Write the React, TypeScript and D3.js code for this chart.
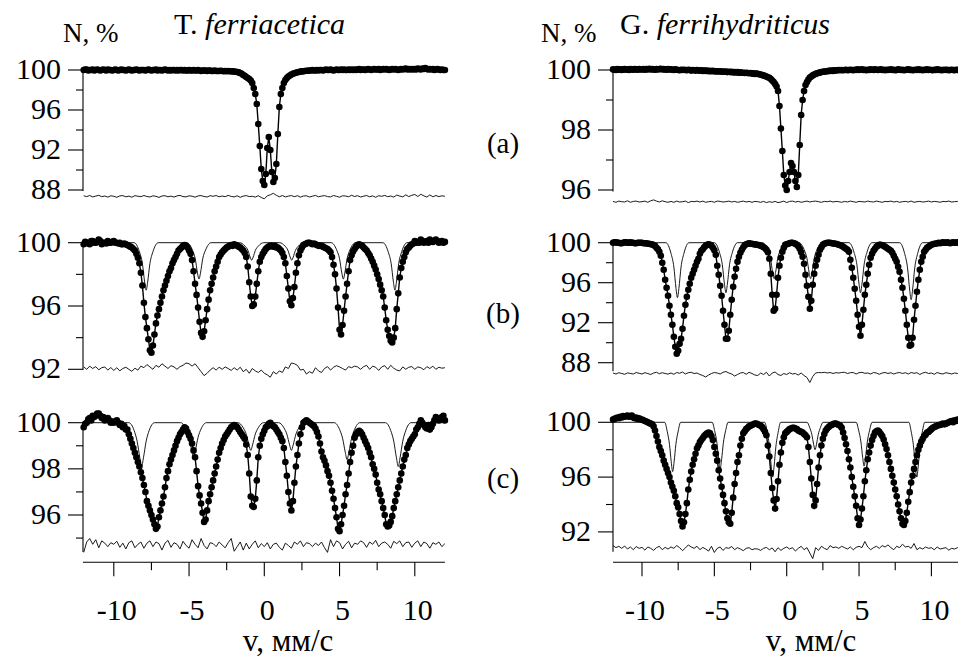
import React from 'react';
import * as d3 from 'd3';

// velocity channels, mm/s (spectra every 0.1 mm/s, residuals every 0.2 mm/s)
const velocity: number[] = d3.range(241).map((i) => +(-12 + 0.1 * i).toFixed(1));
const resVelocity: number[] = d3.range(121).map((i) => +(-12 + 0.2 * i).toFixed(1));

// ---------- transmission spectra N, % ----------
const tfA = [
  100.0, 100.05, 100.05, 99.95, 100.0, 100.0, 100.05, 99.95, 100.0, 100.05,
  100.0, 99.95, 100.0, 100.05, 100.0, 99.95, 100.05, 100.0, 100.0, 99.95,
  100.0, 100.05, 100.0, 99.95, 100.0, 100.05, 100.0, 100.0, 99.95, 100.0,
  100.05, 100.0, 99.95, 100.0, 100.0, 100.05, 100.0, 99.95, 100.0, 100.0,
  100.0, 99.95, 100.0, 100.05, 100.0, 99.95, 100.0, 100.0, 100.05, 99.95,
  100.0, 100.0, 99.95, 100.0, 100.05, 100.0, 99.95, 100.0, 99.95, 100.0,
  100.0, 99.95, 100.0, 99.95, 100.0, 100.0, 99.95, 100.0, 99.95, 99.95,
  100.0, 99.95, 99.95, 100.0, 99.95, 99.95, 100.0, 99.95, 99.9, 99.95,
  99.95, 99.95, 99.9, 99.95, 99.95, 99.9, 99.9, 99.95, 99.9, 99.9,
  99.9, 99.92, 99.9, 99.88, 99.9, 99.88, 99.9, 99.87, 99.88, 99.86,
  99.85, 99.83, 99.8, 99.76, 99.7, 99.62, 99.5, 99.42, 99.3, 99.2,
  99.1, 98.95, 98.7, 98.2, 97.6, 96.6, 94.6, 92.4, 90.1, 88.9,
  88.5, 89.6, 92.2, 93.3, 92.0, 89.8, 88.8, 89.2, 90.6, 93.6,
  96.3, 97.6, 98.2, 98.7, 99.0, 99.2, 99.35, 99.45, 99.55, 99.62,
  99.68, 99.72, 99.77, 99.8, 99.84, 99.86, 99.88, 99.9, 99.92, 99.93,
  99.95, 99.95, 100.0, 99.95, 99.95, 100.0, 99.95, 100.0, 100.0, 99.95,
  100.0, 100.05, 100.0, 100.0, 100.05, 100.0, 99.95, 100.0, 100.05, 100.0,
  100.0, 100.05, 100.0, 100.05, 100.0, 100.0, 100.05, 100.0, 100.05, 100.0,
  100.05, 100.0, 100.05, 100.1, 100.0, 100.05, 100.05, 100.0, 100.05, 100.1,
  100.05, 100.0, 100.05, 100.1, 100.05, 100.05, 100.1, 100.0, 100.05, 100.1,
  100.05, 100.1, 100.05, 100.0, 100.05, 100.1, 100.05, 100.1, 100.05, 100.0,
  100.05, 100.1, 100.05, 100.1, 100.15, 100.05, 100.1, 100.05, 100.1, 100.05,
  100.1, 100.05, 100.15, 100.1, 100.05, 100.15, 100.1, 100.2, 100.1, 100.05,
  100.1, 100.05, 100.1, 100.0, 100.05, 100.1, 100.05, 100.0, 100.05, 100.0,
  100.0,
];
const tfB = [
  99.9, 100.05, 100.0, 99.95, 99.9, 100.1, 100.1, 100.0, 100.0, 100.05,
  100.2, 100.1, 99.9, 100.0, 100.0, 99.95, 100.1, 100.0, 100.0, 100.05,
  100.1, 100.0, 100.0, 99.95, 100.0, 99.9, 99.9, 99.95, 99.9, 99.85,
  99.8, 99.75, 99.7, 99.6, 99.5, 99.3, 99.05, 98.7, 98.1, 97.3,
  96.2, 95.3, 94.6, 93.9, 93.2, 93.05, 93.5, 94.2, 94.9, 95.4,
  95.8, 96.2, 96.6, 97.0, 97.3, 97.6, 97.9, 98.2, 98.4, 98.7,
  98.9, 99.1, 99.3, 99.5, 99.6, 99.7, 99.8, 99.85, 99.8, 99.7,
  99.5, 99.3, 98.9, 98.2, 97.4, 96.7, 95.9, 95.0, 94.3, 94.05,
  94.4, 95.1, 95.8, 96.4, 97.0, 97.4, 97.8, 98.2, 98.5, 98.8,
  99.1, 99.25, 99.4, 99.5, 99.6, 99.7, 99.75, 99.8, 99.85, 99.8,
  99.9, 99.85, 99.8, 99.75, 99.7, 99.6, 99.5, 99.35, 99.1, 98.5,
  97.5, 96.6, 96.0, 96.1, 96.6, 97.4, 98.2, 98.8, 99.1, 99.3,
  99.45, 99.6, 99.7, 99.75, 99.8, 99.8, 99.75, 99.8, 99.7, 99.7,
  99.6, 99.5, 99.35, 99.1, 98.7, 97.9, 97.1, 96.3, 96.05, 96.5,
  97.2, 98.1, 98.7, 99.2, 99.5, 99.7, 99.85, 99.9, 99.95, 100.0,
  100.0, 99.95, 99.9, 99.95, 99.9, 99.85, 99.8, 99.8, 99.8, 99.75,
  99.7, 99.65, 99.6, 99.5, 99.4, 99.1, 98.6, 98.0, 97.1, 95.9,
  94.5, 94.2, 94.8, 95.7, 96.6, 97.4, 98.2, 98.9, 99.2, 99.45,
  99.6, 99.75, 99.85, 99.9, 99.85, 99.8, 99.7, 99.6, 99.5, 99.35,
  99.2, 99.0, 98.8, 98.55, 98.3, 98.0, 97.7, 97.35, 97.0, 96.6,
  95.9, 95.1, 94.5, 94.1, 93.8, 93.7, 94.0, 94.6, 95.8, 96.8,
  97.8, 98.4, 98.8, 99.1, 99.4, 99.6, 99.7, 99.8, 99.9, 99.95,
  100.1, 100.0, 100.05, 100.0, 100.2, 100.1, 100.0, 100.05, 100.1, 100.0,
  100.2, 100.1, 100.05, 100.1, 100.2, 100.1, 100.0, 100.05, 100.1, 100.0,
  100.05,
];
const tfC = [
  99.8, 99.95, 100.0, 100.15, 100.2, 100.1, 100.3, 100.25, 100.3, 100.4,
  100.4, 100.3, 100.2, 100.25, 100.1, 100.15, 100.2, 100.1, 100.0, 100.05,
  100.0, 100.05, 100.1, 100.0, 99.9, 99.95, 99.8, 99.85, 99.7, 99.7,
  99.5, 99.3, 99.1, 98.9, 98.7, 98.5, 98.3, 98.1, 97.85, 97.6,
  97.3, 97.0, 96.6, 96.4, 96.2, 96.0, 95.8, 95.6, 95.4, 95.5,
  95.9, 96.2, 96.5, 96.8, 97.2, 97.6, 97.9, 98.2, 98.4, 98.6,
  98.8, 99.0, 99.2, 99.35, 99.5, 99.6, 99.7, 99.8, 99.75, 99.6,
  99.45, 99.3, 99.1, 98.8, 98.5, 97.9, 97.25, 96.85, 96.5, 96.1,
  95.7, 95.8, 96.2, 96.6, 96.9, 97.2, 97.5, 97.8, 98.1, 98.4,
  98.7, 98.9, 99.1, 99.25, 99.4, 99.5, 99.6, 99.7, 99.8, 99.85,
  99.9, 99.85, 99.8, 99.7, 99.6, 99.5, 99.4, 99.3, 99.05, 98.6,
  97.8, 96.8, 96.4, 96.35, 96.7, 97.5, 98.5, 99.0, 99.3, 99.5,
  99.65, 99.8, 99.85, 99.95, 100.0, 99.9, 99.85, 99.8, 99.7, 99.6,
  99.5, 99.35, 99.2, 98.9, 98.3, 97.7, 97.0, 96.5, 96.2, 96.6,
  97.4, 98.1, 98.6, 99.1, 99.5, 99.8, 100.0, 100.05, 100.1, 100.05,
  100.0, 99.95, 99.9, 99.85, 99.75, 99.6, 99.4, 99.1, 98.75, 98.5,
  98.35, 98.15, 97.9, 97.7, 97.4, 97.05, 96.7, 96.3, 95.9, 95.4,
  95.3, 95.6, 96.0, 96.4, 96.9, 97.3, 97.8, 98.3, 98.7, 99.0,
  99.35, 99.5, 99.6, 99.65, 99.6, 99.5, 99.35, 99.2, 99.05, 98.9,
  98.7, 98.5, 98.2, 98.0, 97.75, 97.4, 97.1, 96.9, 96.6, 96.3,
  96.0, 95.6, 95.5, 95.55, 95.7, 95.95, 96.3, 96.6, 96.9, 97.2,
  97.5, 97.8, 98.1, 98.4, 98.6, 98.9, 99.05, 99.2, 99.3, 99.4,
  99.5, 99.7, 99.8, 99.95, 100.1, 100.0, 99.9, 99.8, 99.75, 99.9,
  99.7, 99.8, 99.95, 100.1, 100.25, 100.15, 100.1, 100.2, 100.25, 100.3,
  100.1,
];
const gfA = [
  100.02, 100.01, 100.0, 100.03, 100.01, 100.02, 100.0, 100.02, 100.03, 100.01,
  100.02, 100.0, 100.03, 100.02, 100.01, 100.03, 100.02, 100.01, 100.03, 100.02,
  100.02, 100.03, 100.01, 100.03, 100.02, 100.04, 100.02, 100.03, 100.02, 100.01,
  100.03, 100.02, 100.03, 100.04, 100.02, 100.03, 100.02, 100.01, 100.03, 100.02,
  100.02, 100.01, 100.0, 100.02, 100.01, 100.0, 99.99, 100.01, 100.0, 100.01,
  100.0, 99.99, 100.01, 100.0, 99.98, 100.0, 99.99, 99.98, 100.0, 99.98,
  99.98, 99.99, 99.97, 99.98, 99.97, 99.98, 99.96, 99.97, 99.96, 99.97,
  99.96, 99.95, 99.96, 99.95, 99.96, 99.94, 99.95, 99.94, 99.95, 99.93,
  99.94, 99.93, 99.94, 99.92, 99.93, 99.92, 99.93, 99.91, 99.92, 99.91,
  99.91, 99.9, 99.91, 99.9, 99.89, 99.9, 99.88, 99.89, 99.87, 99.88,
  99.87, 99.86, 99.85, 99.83, 99.82, 99.8, 99.78, 99.76, 99.74, 99.7,
  99.65, 99.6, 99.53, 99.45, 99.3, 98.8, 98.05, 97.3, 96.5, 96.15,
  96.0, 96.3, 96.6, 96.9, 96.8, 96.6, 96.3, 96.1, 96.5, 97.5,
  98.5, 99.0, 99.3, 99.5, 99.6, 99.68, 99.75, 99.78, 99.82, 99.85,
  99.87, 99.89, 99.9, 99.92, 99.93, 99.94, 99.95, 99.95, 99.96, 99.97,
  99.97, 99.98, 99.97, 99.99, 99.98, 99.99, 100.0, 99.99, 100.0, 99.99,
  100.0, 100.01, 99.99, 100.0, 100.01, 100.0, 99.99, 100.01, 100.0, 100.02,
  100.0, 100.01, 100.02, 100.0, 100.01, 99.99, 100.01, 100.0, 100.02, 100.01,
  100.0, 100.02, 100.01, 100.0, 100.01, 100.02, 100.0, 100.01, 99.99, 100.01,
  100.0, 100.01, 100.02, 100.0, 100.01, 99.99, 100.0, 100.02, 100.01, 100.0,
  100.01, 99.99, 100.0, 100.01, 100.02, 100.0, 100.01, 99.99, 100.0, 100.01,
  100.0, 100.02, 100.0, 100.01, 99.99, 100.01, 100.0, 100.02, 100.0, 100.01,
  100.0, 99.99, 100.01, 100.0, 100.02, 100.0, 100.01, 99.99, 100.0, 100.01,
  100.0, 100.01, 99.99, 100.0, 100.01, 100.0, 99.99, 100.01, 100.0, 100.0,
  100.0,
];
const gfB = [
  100.0, 100.05, 100.05, 100.0, 100.0, 99.95, 99.95, 100.0, 100.05, 100.05,
  100.0, 100.0, 100.05, 100.0, 100.0, 99.95, 99.95, 100.0, 100.0, 100.0,
  100.0, 99.95, 99.95, 99.95, 99.9, 99.9, 99.85, 99.85, 99.75, 99.7,
  99.5, 99.35, 99.1, 98.7, 98.0, 97.3, 96.3, 95.5, 94.7, 93.7,
  92.8, 91.8, 90.6, 89.6, 88.9, 89.2, 89.9, 90.4, 91.4, 92.7,
  93.8, 94.6, 95.3, 95.9, 96.5, 96.9, 97.3, 97.7, 98.1, 98.4,
  98.9, 99.2, 99.35, 99.55, 99.7, 99.8, 99.85, 99.8, 99.7, 99.5,
  99.25, 98.8, 97.7, 96.8, 95.7, 94.7, 93.2, 91.8, 90.4, 90.4,
  91.2, 92.8, 94.3, 95.6, 96.6, 97.4, 98.1, 98.6, 99.0, 99.3,
  99.55, 99.75, 99.85, 99.9, 99.95, 99.9, 99.9, 99.85, 99.85, 99.8,
  99.8, 99.75, 99.7, 99.65, 99.55, 99.45, 99.3, 99.05, 98.4, 96.9,
  94.8, 93.2, 93.4, 94.8, 96.5, 97.7, 98.5, 99.1, 99.5, 99.8,
  99.85, 99.9, 99.95, 100.0, 100.0, 99.95, 99.9, 99.8, 99.65, 99.4,
  99.05, 98.6, 97.9, 96.8, 95.7, 94.6, 93.4, 94.2, 95.8, 96.9,
  97.7, 98.3, 98.8, 99.3, 99.55, 99.8, 99.9, 99.95, 100.0, 100.0,
  100.0, 99.95, 99.95, 99.9, 99.9, 99.85, 99.8, 99.75, 99.7, 99.6,
  99.5, 99.4, 99.3, 99.1, 98.3, 97.5, 96.5, 95.4, 94.2, 92.8,
  91.6, 90.7, 91.8, 93.3, 94.8, 95.8, 96.9, 97.8, 98.5, 98.9,
  99.2, 99.4, 99.6, 99.7, 99.8, 99.8, 99.75, 99.7, 99.6, 99.5,
  99.4, 99.3, 99.2, 99.0, 98.7, 98.4, 98.1, 97.6, 97.1, 96.3,
  95.5, 94.4, 93.2, 91.8, 90.5, 89.7, 89.8, 90.5, 92.3, 93.7,
  95.1, 96.3, 97.3, 98.1, 98.6, 99.1, 99.3, 99.5, 99.6, 99.7,
  99.8, 99.85, 99.9, 99.9, 99.95, 100.0, 99.95, 100.0, 100.05, 100.0,
  100.0, 100.05, 100.0, 99.95, 100.0, 100.05, 100.0, 100.0, 100.05, 100.0,
  100.0,
];
const gfC = [
  100.2, 100.25, 100.3, 100.35, 100.3, 100.4, 100.35, 100.45, 100.4, 100.45,
  100.5, 100.4, 100.45, 100.5, 100.35, 100.3, 100.35, 100.25, 100.3, 100.2,
  100.2, 100.15, 100.1, 100.05, 100.0, 99.95, 99.9, 99.85, 99.7, 99.4,
  99.0, 98.6, 98.2, 97.9, 97.6, 97.2, 96.9, 96.6, 96.3, 96.0,
  95.6, 95.3, 95.0, 94.6, 94.1, 93.8, 93.3, 92.8, 92.4, 92.7,
  93.3, 94.1, 95.1, 95.8, 96.4, 96.9, 97.3, 97.7, 98.1, 98.3,
  98.55, 98.7, 98.85, 99.0, 99.1, 99.2, 99.25, 99.2, 99.0, 98.7,
  98.2, 97.7, 97.2, 96.5, 95.9, 95.3, 94.7, 94.1, 93.5, 93.0,
  92.7, 92.6, 93.4, 94.5, 95.5, 96.3, 97.1, 97.6, 98.3, 98.8,
  99.2, 99.35, 99.5, 99.6, 99.7, 99.75, 99.8, 99.85, 99.9, 99.9,
  99.85, 99.8, 99.75, 99.65, 99.5, 99.3, 99.05, 98.3, 97.5, 96.3,
  95.2, 94.3, 93.7, 94.4, 95.7, 96.9, 97.8, 98.5, 98.9, 99.2,
  99.3, 99.4, 99.5, 99.55, 99.6, 99.6, 99.55, 99.5, 99.4, 99.35,
  99.3, 99.25, 99.15, 99.05, 98.9, 98.2, 97.1, 95.9, 94.7, 93.9,
  94.3, 95.5, 96.7, 97.6, 98.3, 98.8, 99.15, 99.4, 99.55, 99.65,
  99.75, 99.8, 99.85, 99.9, 99.9, 99.85, 99.8, 99.75, 99.6, 99.25,
  98.85, 98.4, 97.9, 97.3, 96.7, 96.0, 95.3, 94.6, 93.9, 93.0,
  92.5, 92.9, 93.7, 94.6, 95.7, 96.5, 97.3, 97.8, 98.3, 98.7,
  99.0, 99.25, 99.35, 99.4, 99.3, 99.15, 99.0, 98.75, 98.4, 98.05,
  97.6, 97.1, 96.6, 96.1, 95.6, 95.1, 94.6, 94.0, 93.5, 93.0,
  92.6, 92.5, 92.8, 93.4, 94.2, 94.9, 95.6, 96.1, 96.6, 97.1,
  97.6, 98.0, 98.3, 98.6, 98.8, 99.0, 99.1, 99.25, 99.3, 99.4,
  99.5, 99.6, 99.65, 99.7, 99.75, 99.8, 99.8, 99.85, 99.9, 99.85,
  99.9, 99.95, 100.0, 100.05, 100.1, 100.0, 100.15, 100.1, 100.2, 100.1,
  100.1,
];

// ---------- fit residuals (difference, %) ----------
const tfAres = [
  0.05, -0.03, 0.08, -0.06, 0.02, 0.1, -0.04, 0.03, -0.08, 0.05,
  0.0, -0.1, 0.04, 0.07, -0.05, 0.02, -0.09, 0.06, 0.01, -0.04,
  0.08, -0.02, -0.07, 0.05, 0.0, -0.11, 0.03, 0.06, -0.05, 0.02,
  -0.08, 0.04, 0.09, -0.03, -0.06, 0.05, 0.01, -0.09, 0.04, 0.07,
  -0.02, -0.07, 0.06, 0.0, 0.08, -0.05, 0.03, -0.04, 0.09, -0.01,
  -0.06, 0.05, -0.1, 0.02, 0.07, -0.03, 0.0, -0.08, 0.06, -0.12,
  -0.25, 0.05, 0.15, 0.3, 0.1, -0.05, 0.08, -0.06, 0.02, 0.07,
  -0.04, 0.06, -0.08, 0.03, 0.05, -0.07, 0.01, 0.09, -0.05, 0.02,
  0.07, -0.03, -0.06, 0.08, 0.0, -0.09, 0.05, 0.03, -0.04, 0.1,
  -0.02, 0.06, -0.07, 0.01, 0.08, -0.05, 0.04, -0.1, 0.06, 0.0,
  0.09, -0.04, 0.03, -0.08, 0.12, 0.02, -0.06, 0.15, -0.03, 0.1,
  0.18, -0.02, 0.2, 0.05, -0.08, 0.14, -0.05, 0.08, -0.03, 0.05,
  0.0,
];
const tfBres = [
  0.1, -0.05, 0.15, 0.0, 0.12, -0.08, 0.05, 0.1, -0.1, 0.06,
  -0.12, 0.05, -0.15, 0.0, 0.08, -0.05, -0.18, 0.02, -0.1, 0.15,
  0.05, 0.25, 0.1, -0.05, 0.2, 0.08, 0.3, 0.15, 0.0, 0.18,
  0.1, -0.05, 0.12, 0.2, 0.35, 0.3, 0.15, 0.3, 0.05, -0.2,
  -0.45, -0.3, -0.1, 0.05, -0.1, 0.08, -0.05, 0.1, 0.0, -0.12,
  0.05, -0.1, 0.08, -0.2, -0.05, -0.3, 0.0, -0.15, -0.25, -0.1,
  -0.3, -0.4, -0.55, -0.2, -0.35, -0.15, -0.25, 0.1, 0.0, 0.35,
  0.3, 0.2, -0.1, -0.05, -0.35, -0.2, -0.3, 0.05, -0.15, -0.25,
  0.0, 0.12, -0.1, 0.08, 0.18, 0.1, 0.0, -0.1, 0.12, 0.05,
  0.15, 0.1, -0.05, 0.12, 0.2, -0.05, 0.15, 0.08, -0.12, 0.1,
  0.18, -0.05, 0.2, 0.02, -0.1, -0.15, 0.1, -0.05, 0.08, 0.12,
  -0.05, 0.1, 0.05, -0.08, 0.12, 0.0, 0.15, -0.05, 0.08, 0.02,
  0.05,
];
const tfCres = [
  -0.3, 0.15, 0.3, 0.05, 0.25, -0.1, 0.2, 0.1, -0.05, 0.12,
  0.05, 0.18, -0.08, 0.1, -0.15, 0.12, 0.2, -0.1, 0.05, 0.15,
  -0.12, 0.1, 0.2, -0.05, 0.15, 0.08, -0.2, 0.1, 0.22, -0.08,
  0.12, 0.05, -0.15, 0.18, 0.0, -0.12, 0.25, 0.05, -0.1, 0.3,
  0.0, -0.15, 0.12, 0.08, -0.05, 0.15, 0.02, -0.1, 0.12, 0.3,
  -0.25, -0.05, 0.15, -0.2, 0.1, -0.15, 0.05, 0.2, -0.1, 0.08,
  -0.05, 0.12, -0.15, 0.05, 0.1, -0.08, -0.2, 0.1, 0.0, -0.12,
  0.15, 0.05, 0.2, -0.05, 0.12, 0.08, -0.05, 0.1, 0.0, 0.15,
  -0.1, -0.3, 0.25, -0.05, 0.2, 0.12, -0.15, 0.05, 0.18, -0.1,
  0.1, 0.05, 0.2, 0.12, -0.08, 0.15, 0.05, 0.22, -0.05, 0.1,
  0.15, 0.05, -0.12, 0.18, 0.08, 0.2, -0.05, 0.12, 0.15, -0.08,
  0.1, 0.2, -0.05, 0.15, 0.08, -0.12, 0.12, 0.05, 0.15, -0.05,
  0.08,
];
const gfAres = [
  0.01, -0.02, 0.02, 0.0, -0.01, 0.03, -0.02, 0.01, 0.02, -0.01,
  0.0, 0.02, -0.02, 0.03, 0.06, 0.02, -0.01, 0.03, 0.0, -0.02,
  0.01, -0.02, 0.02, -0.01, 0.0, 0.02, -0.03, 0.01, 0.0, 0.02,
  -0.01, 0.02, -0.02, 0.0, 0.01, -0.02, 0.02, 0.01, -0.01, 0.0,
  0.02, -0.01, 0.01, -0.02, 0.0, 0.02, -0.01, 0.01, -0.02, 0.01,
  0.0, -0.02, 0.01, -0.03, 0.0, -0.02, 0.01, -0.03, -0.01, 0.02,
  -0.03, 0.01, 0.02, -0.01, 0.01, -0.02, 0.0, 0.02, -0.01, 0.01,
  0.02, 0.0, -0.02, 0.01, 0.0, 0.02, -0.01, 0.01, 0.0, -0.02,
  0.01, -0.01, 0.02, 0.0, -0.02, 0.01, 0.0, -0.01, 0.02, 0.0,
  -0.01, 0.02, 0.0, -0.02, 0.01, 0.0, 0.02, -0.01, 0.01, -0.02,
  0.0, 0.01, -0.01, 0.02, -0.02, 0.0, 0.01, -0.01, 0.0, 0.02,
  -0.01, 0.01, 0.0, -0.02, 0.01, 0.0, 0.02, -0.01, 0.0, 0.01,
  0.0,
];
const gfBres = [
  0.05, -0.05, 0.08, 0.0, -0.08, 0.06, 0.0, -0.05, 0.1, 0.02,
  -0.05, 0.08, 0.0, -0.1, 0.05, 0.12, -0.02, 0.08, 0.0, -0.06,
  0.05, -0.08, 0.1, 0.02, 0.15, -0.05, 0.08, 0.12, 0.0, 0.05,
  -0.1, -0.2, -0.35, -0.15, 0.0, 0.1, 0.05, -0.05, 0.12, 0.2,
  0.05, -0.05, -0.25, -0.1, 0.05, 0.1, -0.08, 0.12, 0.0, -0.15,
  -0.2, 0.05, -0.1, 0.12, -0.25, 0.05, 0.15, -0.1, -0.2, 0.0,
  -0.1, 0.08, -0.05, 0.0, -0.15, 0.05, -0.2, -0.4, -0.9, -0.3,
  0.05, 0.1, 0.08, 0.12, 0.05, 0.1, 0.0, 0.08, 0.05, 0.1,
  0.12, 0.0, 0.08, 0.1, -0.05, 0.08, 0.12, 0.02, 0.05, -0.05,
  0.1, 0.05, -0.08, 0.05, 0.1, 0.0, 0.08, -0.05, 0.05, 0.1,
  0.0, 0.08, -0.05, 0.1, 0.02, 0.08, -0.1, 0.05, 0.12, 0.0,
  0.05, -0.08, 0.1, 0.0, -0.05, 0.08, 0.02, -0.05, 0.05, 0.0,
  0.0,
];
const gfCres = [
  0.25, 0.1, 0.2, 0.05, 0.22, 0.0, 0.15, -0.05, 0.18, 0.05,
  0.12, -0.08, 0.15, 0.05, -0.1, 0.1, 0.2, -0.05, 0.12, 0.0,
  0.15, 0.05, 0.25, 0.1, -0.12, 0.08, 0.3, 0.15, 0.05, 0.2,
  -0.05, 0.12, 0.0, -0.15, 0.2, -0.25, 0.05, 0.15, -0.1, 0.1,
  0.05, 0.18, -0.05, 0.1, 0.0, -0.12, 0.05, 0.1, -0.05, 0.02,
  0.0, -0.1, 0.05, 0.12, -0.05, 0.08, -0.2, 0.1, -0.1, 0.05,
  0.15, 0.0, 0.1, -0.15, 0.05, 0.2, -0.05, 0.1, -0.3, -0.7,
  0.1, -0.1, 0.2, 0.05, -0.05, 0.25, 0.1, 0.15, 0.05, 0.2,
  0.1, 0.0, 0.15, -0.05, 0.12, 0.2, 0.1, 0.55, 0.15, -0.05,
  0.1, 0.2, 0.05, 0.25, 0.15, 0.3, 0.1, -0.05, 0.2, 0.1,
  0.35, 0.15, 0.2, 0.05, 0.4, -0.05, 0.1, 0.0, 0.15, 0.05,
  0.1, -0.05, 0.15, 0.0, 0.05, 0.1, -0.08, 0.05, 0.0, 0.1,
  0.0,
];

// ---------- sextet subspectra [v, N] ----------
const tfBsub: [number, number][] = [
  [-12, 100], [-8.65, 100], [-8.3, 99.43], [-8.1, 98.68], [-7.95, 97.51], [-7.85, 97.0], [-7.75, 97.51], [-7.6, 98.68], [-7.4, 99.43], [-7.05, 100],
  [-5.14, 100], [-4.79, 99.56], [-4.59, 98.99], [-4.44, 98.09], [-4.34, 97.7], [-4.24, 98.09], [-4.09, 98.99], [-3.89, 99.56], [-3.54, 100],
  [-1.64, 100], [-1.29, 99.79], [-1.09, 99.52], [-0.94, 99.09], [-0.84, 98.9], [-0.74, 99.09], [-0.59, 99.52], [-0.39, 99.79], [-0.04, 100],
  [1.02, 100], [1.37, 99.79], [1.57, 99.52], [1.72, 99.09], [1.82, 98.9], [1.92, 99.09], [2.07, 99.52], [2.27, 99.79], [2.62, 100],
  [4.45, 100], [4.8, 99.56], [5.0, 98.99], [5.15, 98.09], [5.25, 97.7], [5.35, 98.09], [5.5, 98.99], [5.7, 99.56], [6.05, 100],
  [7.88, 100], [8.23, 99.43], [8.43, 98.68], [8.58, 97.51], [8.68, 97.0], [8.78, 97.51], [8.93, 98.68], [9.13, 99.43], [9.48, 100],
  [12, 100],
];
const tfCsub: [number, number][] = [
  [-12, 100], [-9.0, 100], [-8.65, 99.66], [-8.45, 99.2], [-8.27, 98.48], [-8.15, 98.1], [-8.03, 98.48], [-7.85, 99.2], [-7.65, 99.66], [-7.3, 100],
  [-5.55, 100], [-5.2, 99.73], [-5.0, 99.37], [-4.82, 98.8], [-4.7, 98.5], [-4.58, 98.8], [-4.4, 99.37], [-4.2, 99.73], [-3.85, 100],
  [-1.75, 100], [-1.4, 99.78], [-1.2, 99.5], [-1.02, 99.04], [-0.9, 98.8], [-0.78, 99.04], [-0.6, 99.5], [-0.4, 99.78], [-0.05, 100],
  [0.95, 100], [1.3, 99.78], [1.5, 99.5], [1.68, 99.04], [1.8, 98.8], [1.92, 99.04], [2.1, 99.5], [2.3, 99.78], [2.65, 100],
  [4.65, 100], [5.0, 99.71], [5.2, 99.33], [5.38, 98.72], [5.5, 98.4], [5.62, 98.72], [5.8, 99.33], [6.0, 99.71], [6.35, 100],
  [8.05, 100], [8.4, 99.66], [8.6, 99.2], [8.78, 98.48], [8.9, 98.1], [9.02, 98.48], [9.2, 99.2], [9.4, 99.66], [9.75, 100],
  [12, 100],
];
const gfBsub: [number, number][] = [
  [-12, 100], [-8.35, 100], [-8.0, 98.95], [-7.8, 97.58], [-7.65, 95.43], [-7.55, 94.5], [-7.45, 95.43], [-7.3, 97.58], [-7.1, 98.95], [-6.75, 100],
  [-5.0, 100], [-4.65, 99.05], [-4.45, 97.8], [-4.3, 95.85], [-4.2, 95.0], [-4.1, 95.85], [-3.95, 97.8], [-3.75, 99.05], [-3.4, 100],
  [-1.67, 100], [-1.32, 99.32], [-1.12, 98.42], [-0.97, 97.01], [-0.87, 96.4], [-0.77, 97.01], [-0.62, 98.42], [-0.42, 99.32], [-0.07, 100],
  [0.85, 100], [1.2, 99.32], [1.4, 98.42], [1.55, 97.01], [1.65, 96.4], [1.75, 97.01], [1.9, 98.42], [2.1, 99.32], [2.45, 100],
  [4.3, 100], [4.65, 99.05], [4.85, 97.8], [5.0, 95.85], [5.1, 95.0], [5.2, 95.85], [5.35, 97.8], [5.55, 99.05], [5.9, 100],
  [7.8, 100], [8.15, 98.92], [8.35, 97.49], [8.5, 95.27], [8.6, 94.3], [8.7, 95.27], [8.85, 97.49], [9.05, 98.92], [9.4, 100],
  [12.2, 100],
];
const gfCsub: [number, number][] = [
  [-12, 100], [-8.43, 100], [-8.26, 99.35], [-8.1, 98.38], [-7.98, 97.12], [-7.88, 96.4], [-7.78, 97.12], [-7.66, 98.38], [-7.5, 99.35], [-7.33, 100],
  [-5.15, 100], [-4.98, 99.39], [-4.82, 98.47], [-4.7, 97.28], [-4.6, 96.6], [-4.5, 97.28], [-4.38, 98.47], [-4.22, 99.39], [-4.05, 100],
  [-1.52, 100], [-1.35, 99.28], [-1.19, 98.2], [-1.07, 96.8], [-0.97, 96.0], [-0.87, 96.8], [-0.75, 98.2], [-0.59, 99.28], [-0.42, 100],
  [1.41, 100], [1.58, 99.64], [1.74, 99.1], [1.86, 98.4], [1.96, 98.0], [2.06, 98.4], [2.18, 99.1], [2.34, 99.64], [2.51, 100],
  [4.8, 100], [4.97, 99.42], [5.13, 98.56], [5.25, 97.44], [5.35, 96.8], [5.45, 97.44], [5.57, 98.56], [5.73, 99.42], [5.9, 100],
  [8.44, 100], [8.61, 99.28], [8.77, 98.2], [8.89, 96.8], [8.99, 96.0], [9.09, 96.8], [9.21, 98.2], [9.37, 99.28], [9.54, 100],
  [12.2, 100],
];

// ---------- ticks & labels ----------
const ticksA_tf = [100, 96, 92, 88];
const minorA_tf = [98, 94, 90];
const ticksB_tf = [100, 96, 92];
const minorB_tf = [98, 94];
const ticksC_tf = [100, 98, 96];
const minorC_tf = [99, 97, 95];
const ticksA_gf = [100, 98, 96];
const minorA_gf = [99, 97];
const ticksB_gf = [100, 96, 92, 88];
const minorB_gf = [98, 94, 90];
const ticksC_gf = [100, 96, 92];
const minorC_gf = [98, 94];
const xTicks = [-10, -5, 0, 5, 10];
const xMinor = [-7.5, -2.5, 2.5, 7.5];
const panelLetters = ['(a)', '(b)', '(c)'];
const yLabel = 'N, %';
const xLabel = 'v, мм/с';

const FONT = '"Liberation Serif", "Times New Roman", serif';

type PanelCfg = {
  x: d3.ScaleLinear<number, number>;
  y: d3.ScaleLinear<number, number>;
  data: number[];
  res: number[];
  resBase: number;
  sub: [number, number][] | null;
  major: number[];
  minor: number[];
  axisLow: number;
  axisX: number;
  labelX: number;
};

function Panel({ p }: { p: PanelCfg }) {
  const { x, y } = p;
  const fit = d3
    .line<number>()
    .x((_, i) => x(velocity[i]))
    .y((d) => y(d))(p.data) as string;
  const res = d3
    .line<number>()
    .x((_, i) => x(resVelocity[i]))
    .y((d) => y(p.resBase + d))(p.res) as string;
  const sub = p.sub
    ? (d3
        .line<[number, number]>()
        .x((d) => x(d[0]))
        .y((d) => y(d[1]))
        .curve(d3.curveMonotoneX)(p.sub) as string)
    : null;
  return (
    <g>
      <line x1={p.axisX} x2={p.axisX} y1={y(100)} y2={y(p.axisLow)} stroke="#000" strokeWidth={1.1} />
      {p.major.map((t) => (
        <g key={'M' + t}>
          <line x1={p.axisX - 15} x2={p.axisX} y1={y(t)} y2={y(t)} stroke="#000" strokeWidth={1.1} />
          <text x={p.labelX} y={y(t)} dy="0.3em" textAnchor="end" fontSize={30} fontFamily={FONT}>
            {t}
          </text>
        </g>
      ))}
      {p.minor.map((t) => (
        <line key={'m' + t} x1={p.axisX - 7} x2={p.axisX} y1={y(t)} y2={y(t)} stroke="#000" strokeWidth={1.1} />
      ))}
      {sub && <path d={sub} fill="none" stroke="#000" strokeWidth={0.9} />}
      <path d={res} fill="none" stroke="#000" strokeWidth={0.9} />
      <path d={fit} fill="none" stroke="#000" strokeWidth={1.4} />
      {p.data.map((d, i) => (
        <circle key={i} cx={x(velocity[i])} cy={y(d)} r={3.3} fill="#000" />
      ))}
    </g>
  );
}

export default function App() {
  const W = 958;
  const H = 659;
  const xL = d3.scaleLinear().domain([-10, 10]).range([113.8, 414.8]);
  const xR = d3.scaleLinear().domain([-10, 10]).range([642.0, 931.4]);
  const axL = 83;
  const axR = 613;

  const panels: PanelCfg[] = [
    { x: xL, y: d3.scaleLinear().domain([100, 88]).range([70, 190]), data: tfA, res: tfAres, resBase: 87.37, sub: null, major: ticksA_tf, minor: minorA_tf, axisLow: 87.9, axisX: axL, labelX: 61 },
    { x: xL, y: d3.scaleLinear().domain([100, 92]).range([242.7, 369.3]), data: tfB, res: tfBres, resBase: 92.05, sub: tfBsub, major: ticksB_tf, minor: minorB_tf, axisLow: 91.95, axisX: axL, labelX: 61 },
    { x: xL, y: d3.scaleLinear().domain([100, 96]).range([422.7, 515]), data: tfC, res: tfCres, resBase: 94.68, sub: tfCsub, major: ticksC_tf, minor: minorC_tf, axisLow: 94.4, axisX: axL, labelX: 61 },
    { x: xR, y: d3.scaleLinear().domain([100, 96]).range([70, 190]), data: gfA, res: gfAres, resBase: 95.61, sub: null, major: ticksA_gf, minor: minorA_gf, axisLow: 95.95, axisX: axR, labelX: 591 },
    { x: xR, y: d3.scaleLinear().domain([100, 88]).range([242.7, 362.7]), data: gfB, res: gfBres, resBase: 86.92, sub: gfBsub, major: ticksB_gf, minor: minorB_gf, axisLow: 87.15, axisX: axR, labelX: 591 },
    { x: xR, y: d3.scaleLinear().domain([100, 92]).range([422.3, 531.9]), data: gfC, res: gfCres, resBase: 90.75, sub: gfCsub, major: ticksC_gf, minor: minorC_gf, axisLow: 90.55, axisX: axR, labelX: 591 },
  ];

  const xAxisY = 562.3;
  const cols = [
    { x: xL, x0: -12.05, x1: 12.0, titleX: 288 },
    { x: xR, x0: -12.0, x1: 12.3, titleX: 811 },
  ];
  const letterY = [153, 323, 488];

  return (
    <svg width={W} height={H} viewBox={`0 0 ${W} ${H}`} style={{ position: 'absolute', left: 0, top: 0, background: '#fff' }}>
      <rect x={0} y={0} width={W} height={H} fill="#fff" />
      {panels.map((p, i) => (
        <Panel key={i} p={p} />
      ))}
      {cols.map((c, i) => (
        <g key={'c' + i}>
          <line x1={c.x(c.x0)} x2={c.x(c.x1)} y1={xAxisY} y2={xAxisY} stroke="#000" strokeWidth={1.1} />
          {xTicks.map((t) => (
            <g key={t}>
              <line x1={c.x(t)} x2={c.x(t)} y1={xAxisY} y2={xAxisY + 14} stroke="#000" strokeWidth={1.1} />
              <text x={c.x(t) + 3} y={620} textAnchor="middle" fontSize={30} fontFamily={FONT}>
                {t}
              </text>
            </g>
          ))}
          {xMinor.map((t) => (
            <line key={'mn' + t} x1={c.x(t)} x2={c.x(t)} y1={xAxisY} y2={xAxisY + 8} stroke="#000" strokeWidth={1.1} />
          ))}
          <text x={c.titleX} y={651} textAnchor="middle" fontSize={31} fontFamily={FONT}>
            {xLabel}
          </text>
        </g>
      ))}
      <text x={63} y={42} fontSize={27} fontFamily={FONT}>{yLabel}</text>
      <text x={541} y={42} fontSize={27} fontFamily={FONT}>{yLabel}</text>
      <text x={174} y={34} fontSize={30} fontFamily={FONT}>
        T. <tspan fontStyle="italic">ferriacetica</tspan>
      </text>
      <text x={620} y={34} fontSize={30} fontFamily={FONT}>
        G. <tspan fontStyle="italic">ferrihydriticus</tspan>
      </text>
      {panelLetters.map((l, i) => (
        <text key={l} x={503} y={letterY[i]} textAnchor="middle" fontSize={29} fontFamily={FONT}>
          {l}
        </text>
      ))}
    </svg>
  );
}
